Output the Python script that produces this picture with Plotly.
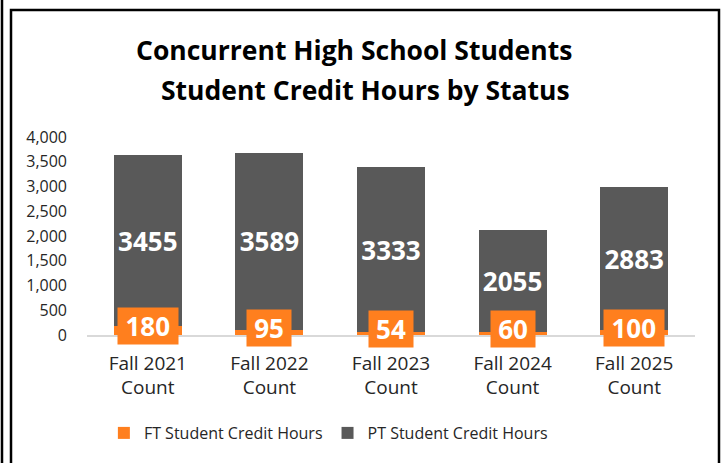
import plotly.graph_objects as go

categories = ["Fall 2021<br>Count", "Fall 2022<br>Count", "Fall 2023<br>Count", "Fall 2024<br>Count", "Fall 2025<br>Count"]
ft_values = [180, 95, 54, 60, 100]
pt_values = [3455, 3589, 3333, 2055, 2883]
y_ticks = [0, 500, 1000, 1500, 2000, 2500, 3000, 3500, 4000]

ORANGE = "#FF7F1E"
GRAY = "#595959"
FONT = "Open Sans"

fig = go.Figure()
fig.add_trace(go.Bar(
    x=categories, y=ft_values, name="FT Student Credit Hours",
    marker=dict(color=ORANGE, line=dict(width=0)),
))
fig.add_trace(go.Bar(
    x=categories, y=pt_values, name="PT Student Credit Hours",
    marker=dict(color=GRAY, line=dict(width=0)),
    text=[str(v) for v in pt_values], textposition="inside", insidetextanchor="middle",
    textfont=dict(family=FONT, size=26, color="white", weight="bold"),
    textangle=0,
))

for c, v in zip(categories, ft_values):
    fig.add_annotation(
        x=c, y=v / 2, xref="x", yref="y", text=f"<b>{v}</b>", showarrow=False,
        font=dict(family=FONT, size=26, color="white"),
        bgcolor=ORANGE, borderpad=0, width=len(str(v)) * 15.5 + 13, height=36,
        xanchor="center", yanchor="middle", yshift=5,
    )

# titles
fig.add_annotation(x=(354 - 87) / 608, xref="paper", y=(335 - 50) / 198, yref="paper",
                   text="<b>Concurrent High School Students</b>", showarrow=False,
                   font=dict(family=FONT, size=26.5, color="black"), xanchor="center", yanchor="middle")
fig.add_annotation(x=(365 - 87) / 608, xref="paper", y=(335 - 90) / 198, yref="paper",
                   text="<b>Student Credit Hours by Status</b>", showarrow=False,
                   font=dict(family=FONT, size=26.5, color="black"), xanchor="center", yanchor="middle")

# frame
fig.add_shape(type="rect", xref="paper", yref="paper",
              x0=(11 - 87) / 608, x1=(719 - 87) / 608, y0=(335 - 480) / 198, y1=(335 - 10) / 198,
              line=dict(color="black", width=2.5), fillcolor="rgba(0,0,0,0)")
fig.add_shape(type="line", xref="paper", yref="paper",
              x0=(2 - 87) / 608, x1=(2 - 87) / 608, y0=(335 - 480) / 198, y1=(335 + 10) / 198,
              line=dict(color="black", width=2.5))

fig.update_layout(
    width=723, height=463,
    margin=dict(l=87, r=28, t=137, b=128, autoexpand=False),
    barmode="stack", bargap=0.44,
    plot_bgcolor="white", paper_bgcolor="white",
    font=dict(family=FONT, color="#262626"),
    showlegend=True,
    legend=dict(orientation="h", x=0.397, xanchor="center", y=(335 - 433) / 198, yanchor="middle",
                font=dict(family=FONT, size=16, color="#262626"), itemwidth=30,
                traceorder="normal"),
)
fig.update_xaxes(showgrid=False, showline=True, linecolor="#D9D9D9", linewidth=1.5,
                 ticks="", ticklabelstandoff=10,
                 tickfont=dict(family=FONT, size=19, color="#262626"))
fig.update_yaxes(range=[0, 4000], tickvals=y_ticks, tickformat=",", showgrid=False,
                 zeroline=False, showline=False, ticks="", ticklabelstandoff=19,
                 tickfont=dict(family=FONT, size=16, color="#262626"))

fig.write_html("out.html", config={"displayModeBar": False},
               post_script="document.body.style.margin='0';document.body.style.overflow='hidden';")
